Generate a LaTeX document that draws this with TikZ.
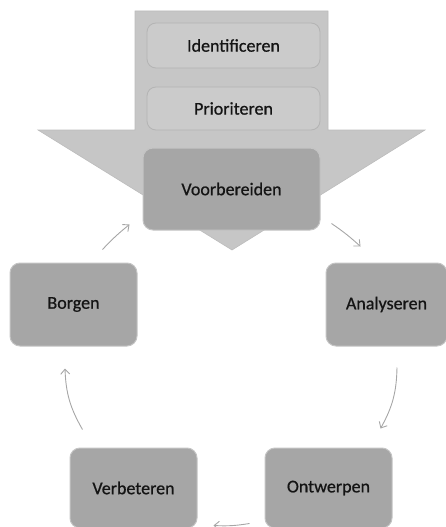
\documentclass[tikz,border=0pt]{standalone}
\usepackage{fontspec}
\setmainfont{Carlito}
\newfontfamily\boxfont{Carlito}[FakeBold=0.7]
\usetikzlibrary{arrows.meta,calc}
\definecolor{arrowfill}{HTML}{C6C6C6}
\definecolor{arrowedge}{HTML}{BCBCBC}
\definecolor{lightbox}{HTML}{CBCBCB}
\definecolor{lightedge}{HTML}{B4B4B4}
\definecolor{darkbox}{HTML}{A6A6A6}
\definecolor{darkedge}{HTML}{C4C4C4}
\definecolor{conncol}{HTML}{A6A6A6}
\definecolor{txt}{HTML}{141414}
\tikzset{
  lightstep/.style={rectangle, rounded corners=9pt, fill=lightbox, draw=lightedge, line width=0.8pt,
    text=txt, font=\boxfont\fontsize{18}{20}\selectfont, inner sep=0pt},
  darkstep/.style={rectangle, rounded corners=10pt, fill=darkbox, draw=darkedge, line width=1pt,
    text=txt, font=\boxfont\fontsize{18}{20}\selectfont, inner sep=0pt},
  conn/.style={draw=conncol, line width=0.9pt, -{Straight Barb[length=5pt,width=9pt]}}
}
\begin{document}
\begin{tikzpicture}[x=1pt,y=-1pt]
\useasboundingbox (0,0) rectangle (445,527);
% big downward arrow
\fill[arrowfill, draw=arrowedge, line width=0.6pt]
  (135,11) -- (328,11) -- (328,130) -- (425,130) -- (232,250) -- (38,130) -- (135,130) -- cycle;
% nodes
\node[lightstep, minimum width=173pt, minimum height=45pt] (ident) at (233.5,45.5) {Identificeren};
\node[lightstep, minimum width=173pt, minimum height=43pt] (prior) at (233.5,108.5) {Prioriteren};
\node[darkstep, minimum width=177pt, minimum height=82pt] (voor) at (231.5,189) {Voorbereiden};
\node[darkstep, minimum width=127pt, minimum height=83pt] (borgen) at (73.5,304.5) {Borgen};
\node[darkstep, minimum width=121pt, minimum height=83pt] (analy) at (386.5,304.5) {Analyseren};
\node[darkstep, minimum width=127pt, minimum height=80pt] (verb) at (133.5,488) {Verbeteren};
\node[darkstep, minimum width=127pt, minimum height=80pt] (ontw) at (328.5,488) {Ontwerpen};
% connectors
\draw[conn] ($(borgen.north east)+(-35,-13)$) to[bend left=4] ($(voor.south west)+(-13,-6)$);
\draw[conn] ($(voor.south east)+(11,-7)$) to[bend left=4] ($(analy.north west)+(35,-16)$);
\draw[conn] ($(analy.south)+(10.5,21)$) to[bend left=14] ($(ontw.north east)+(-12,-19)$);
\draw[conn] ($(ontw.south west)+(-15,-5)$) to[bend left=6] ($(verb.south east)+(16,-3)$);
\draw[conn] ($(verb.north west)+(13,-18)$) to[bend left=14] ($(borgen.south)+(-8.5,22)$);
\end{tikzpicture}
\end{document}
